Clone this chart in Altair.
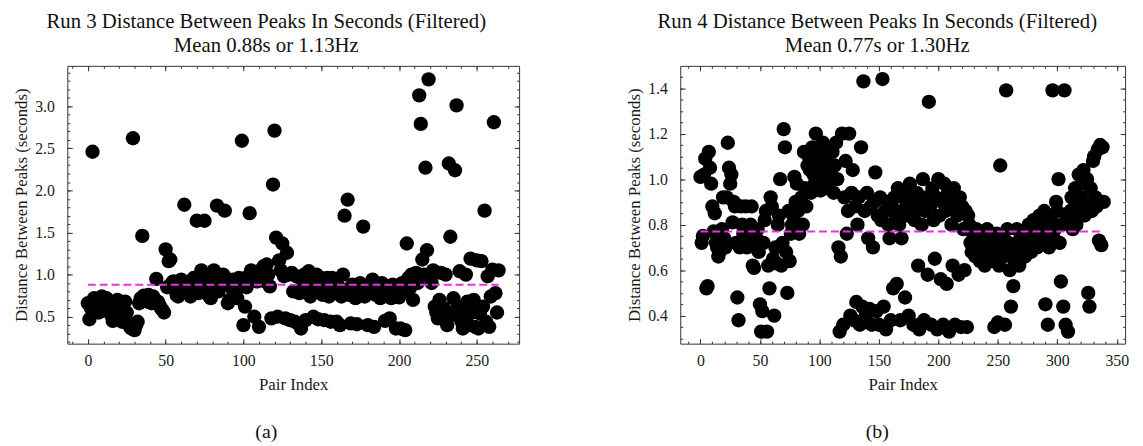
import json
import altair as alt
import pandas as pd

# ---------------- data ----------------
TITLE_A = ["Run 3 Distance Between Peaks In Seconds (Filtered)", "Mean 0.88s or 1.13Hz"]
TITLE_B = ["Run 4 Distance Between Peaks In Seconds (Filtered)", "Mean 0.77s or 1.30Hz"]
CAPTION_A = "(a)"
CAPTION_B = "(b)"
X_TITLE = "Pair Index"
Y_TITLE = "Distance Between Peaks (seconds)"

MEAN_A = [0.88]
MEAN_B = [0.77]

run3 = [
    0.66, 0.47, 0.60, 2.46, 0.72, 0.68, 0.62, 0.55, 0.70, 0.74,
    0.66, 0.58, 0.72, 0.64, 0.60, 0.52, 0.45, 0.56, 0.66, 0.70,
    0.62, 0.50, 0.44, 0.58, 0.68, 0.55, 0.42, 0.38, 0.36, 2.62,
    0.34, 0.40, 0.44, 0.66, 0.72, 1.46, 0.75, 0.70, 0.68, 0.76,
    0.72, 0.66, 0.74, 0.70, 0.95, 0.68, 0.64, 0.60, 0.58, 0.55,
    1.30, 0.85, 1.16, 1.18, 0.90, 0.92, 0.86, 0.76, 0.74, 0.88,
    0.94, 0.80, 1.83, 0.90, 0.86, 0.78, 0.74, 0.92, 0.96, 0.84,
    1.64, 0.78, 0.88, 1.05, 0.98, 1.64, 0.90, 0.82, 0.74, 0.72,
    0.94, 1.05, 0.86, 1.82, 0.80, 0.92, 0.88, 1.00, 1.76, 0.90,
    0.66, 0.70, 0.85, 0.94, 0.90, 0.76, 0.72, 0.96, 0.90, 2.59,
    0.40, 0.62, 0.85, 0.98, 1.73, 1.05, 0.96, 0.50, 1.02, 0.92,
    0.38, 1.05, 1.00, 1.10, 0.92, 1.12, 1.00, 0.86, 0.48, 2.07,
    2.71, 1.44, 0.50, 1.17, 1.05, 1.37, 0.98, 0.48, 1.26, 1.00,
    0.46, 1.02, 0.80, 0.44, 0.98, 0.42, 0.78, 0.36, 0.88, 1.00,
    0.46, 0.80, 1.04, 0.74, 0.95, 0.50, 0.84, 1.00, 0.47, 0.82,
    0.96, 0.76, 0.46, 0.88, 0.96, 0.74, 0.44, 0.96, 0.82, 0.78,
    0.44, 0.86, 0.40, 0.74, 1.00, 1.70, 0.82, 1.89, 0.76, 0.42,
    0.88, 0.80, 0.72, 0.41, 0.84, 0.90, 0.78, 1.57, 0.74, 0.86,
    0.40, 0.80, 0.88, 0.94, 0.38, 0.76, 0.84, 0.80, 0.72, 0.90,
    0.84, 0.45, 0.78, 0.86, 0.48, 0.72, 0.88, 0.80, 0.36, 0.76,
    0.73, 0.36, 0.90, 0.80, 0.34, 1.37, 0.96, 0.84, 1.00, 0.70,
    0.95, 1.02, 0.90, 3.13, 2.79, 1.18, 1.00, 2.27, 1.29, 3.32,
    0.98, 0.90, 1.05, 0.62, 0.55, 0.48, 0.70, 1.02, 0.52, 0.60,
    1.00, 0.40, 2.32, 1.45, 0.52, 0.72, 2.24, 3.01, 0.62, 1.04,
    0.45, 0.36, 0.58, 1.00, 0.68, 0.40, 1.19, 0.55, 0.70, 0.38,
    1.17, 0.36, 0.54, 1.16, 0.62, 1.76, 0.44, 0.98, 0.38, 0.74,
    1.06, 2.81, 0.78, 0.55, 1.05,
]

run4 = [
    1.01, 0.72, 0.75, 1.02, 1.09, 0.52, 0.53, 1.12, 1.05, 0.98,
    0.88, 0.77, 0.85, 0.72, 0.70, 0.66, 0.68, 0.74, 0.78, 0.92,
    0.74, 0.70, 0.92, 1.16, 1.05, 0.98, 1.02, 0.81, 0.90, 0.88,
    0.72, 0.48, 0.38, 0.70, 0.88, 0.80, 0.76, 0.74, 0.88, 0.70,
    0.78, 0.72, 0.80, 0.88, 0.62, 0.61, 0.70, 0.74, 0.78, 0.68,
    0.45, 0.33, 0.42, 0.72, 0.82, 0.86, 0.33, 0.62, 0.52, 0.92,
    0.88, 0.65, 0.40, 0.70, 0.63, 0.80, 0.84, 1.00, 0.62, 0.72,
    1.22, 1.14, 0.68, 0.50, 0.86, 0.64, 0.76, 0.80, 0.84, 1.01,
    0.90, 0.98, 0.86, 0.76, 0.88, 0.92, 0.80, 1.12, 0.96, 0.88,
    1.06, 1.10, 1.04, 0.94, 1.14, 1.02, 0.98, 1.20, 1.08, 1.12,
    1.00, 0.95, 1.06, 1.16, 1.10, 1.02, 1.08, 0.96, 1.14, 1.04,
    1.00, 1.12, 0.94, 1.06, 1.16, 1.00, 0.70, 0.33, 0.66, 1.20,
    0.36, 0.92, 1.08, 0.76, 0.86, 1.20, 0.40, 0.94, 1.04, 0.38,
    0.88, 0.46, 0.80, 0.92, 0.36, 1.14, 0.44, 1.43, 0.86, 0.40,
    0.94, 0.74, 0.43, 0.88, 0.36, 0.70, 0.90, 1.03, 0.42, 0.84,
    0.36, 0.92, 0.82, 1.44, 0.44, 0.86, 0.34, 0.90, 0.80, 0.74,
    0.38, 0.88, 0.52, 0.92, 0.84, 0.54, 0.96, 0.80, 0.38, 0.74,
    0.86, 0.94, 0.48, 0.90, 0.84, 0.40, 0.98, 0.88, 0.92, 0.36,
    0.82, 0.86, 0.94, 0.62, 0.34, 0.90, 0.80, 1.00, 0.38, 0.86,
    0.92, 0.58, 1.34, 0.88, 0.36, 0.96, 0.82, 0.65, 0.92, 0.34,
    1.00, 0.84, 0.56, 0.90, 0.36, 0.98, 0.86, 0.54, 0.94, 0.33,
    0.88, 0.80, 0.62, 0.96, 0.36, 0.90, 0.84, 0.58, 0.92, 0.35,
    0.88, 0.78, 0.60, 0.86, 0.35, 0.84, 0.80, 0.72, 0.68, 0.76,
    0.74, 0.66, 0.78, 0.70, 0.76, 0.64, 0.72, 0.68, 0.74, 0.62,
    0.70, 0.78, 0.66, 0.72, 0.64, 0.74, 0.70, 0.35, 0.68, 0.76,
    0.37, 0.62, 1.06, 0.70, 0.74, 0.66, 0.36, 1.39, 0.78, 0.72,
    0.60, 0.44, 0.68, 0.53, 0.64, 0.70, 0.78, 0.72, 0.62, 0.74,
    0.68, 0.76, 0.70, 0.66, 0.78, 0.72, 0.80, 0.74, 0.68, 0.76,
    0.82, 0.72, 0.78, 0.70, 0.76, 0.84, 0.74, 0.80, 0.72, 0.86,
    0.45, 0.78, 0.36, 0.70, 0.76, 0.82, 1.39, 0.74, 0.78, 0.90,
    0.86, 1.00, 0.72, 0.55, 0.80, 0.44, 1.39, 0.36, 0.84, 0.33,
    0.82, 0.86, 0.92, 0.78, 0.84, 0.96, 0.80, 0.88, 1.02, 0.86,
    0.92, 0.98, 1.04, 0.84, 0.90, 1.00, 0.50, 0.44, 0.96, 0.86,
    1.08, 1.10, 0.92, 0.88, 1.13, 0.73, 1.15, 0.71, 1.14, 0.90,
]

# axis domains and ticks
X_DOMAIN_A = [-13.2, 277.2]
Y_DOMAIN_A = [0.18, 3.48]
X_DOMAIN_B = [-17.0, 357.0]
Y_DOMAIN_B = [0.277, 1.498]

X_MAJOR_A = [0, 50, 100, 150, 200, 250]
X_MINOR_A = list(range(-10, 271, 10))
Y_MAJOR_A = [0.5, 1.0, 1.5, 2.0, 2.5, 3.0]
Y_MINOR_A = [round(0.2 + 0.1 * i, 2) for i in range(33)]

X_MAJOR_B = [0, 50, 100, 150, 200, 250, 300, 350]
X_MINOR_B = list(range(-10, 351, 10))
Y_MAJOR_B = [0.4, 0.6, 0.8, 1.0, 1.2, 1.4]
Y_MINOR_B = [round(0.3 + 0.05 * i, 2) for i in range(24)]

FONT = "Liberation Serif"
INK = "#1a1a1a"
FRAME = "#333333"
TICK = "#333333"
MEAN_COLOR = "#e830e8"


def make_axis(orient, values, fmt, size, title=None, labels=False, pad=10, tpad=5):
    # ticks point into the plot: the axis sits `size` px inside, ticks run out to the frame
    return alt.Axis(
        orient=orient,
        values=values,
        format=fmt,
        domain=False,
        grid=False,
        ticks=True,
        offset=-size,
        tickSize=size,
        tickWidth=1,
        tickColor=TICK,
        zindex=2,
        labels=labels,
        labelFont=FONT,
        labelFontSize=16,
        labelColor=INK,
        labelPadding=pad,
        labelOverlap=False,
        labelFlush=False,
        title=title,
        titleFont=FONT,
        titleFontSize=17,
        titleFontWeight="normal",
        titleColor=INK,
        titlePadding=tpad,
    )


def panel(values, mean, xdom, ydom, xmaj, xmin, ymaj, ymin):
    df = pd.DataFrame({"idx": list(range(len(values))), "val": values})
    mdf = pd.DataFrame({"x0": [0], "x1": [len(values) - 1], "m": mean})
    xs = alt.Scale(domain=xdom, nice=False, zero=False)
    ys = alt.Scale(domain=ydom, nice=False, zero=False)
    pts = alt.Chart(df).mark_circle(size=210, color="black", opacity=1).encode(
        x=alt.X("idx:Q", scale=xs,
                axis=make_axis("bottom", xmaj, "d", 5, title=X_TITLE, labels=True, pad=9, tpad=8)),
        y=alt.Y("val:Q", scale=ys,
                axis=make_axis("left", ymaj, ".1f", 5, title=Y_TITLE, labels=True, pad=13, tpad=4)),
    )
    rule = alt.Chart(mdf).mark_rule(color=MEAN_COLOR, strokeDash=[8, 4], strokeWidth=2).encode(
        x=alt.X("x0:Q", scale=xs, axis=make_axis("top", xmaj, "d", 5)),
        x2="x1:Q",
        y=alt.Y("m:Q", scale=ys, axis=make_axis("right", ymaj, ".1f", 5)),
    )
    minor1 = alt.Chart(mdf).mark_rule(strokeOpacity=0).encode(
        x=alt.X("x0:Q", scale=xs, axis=make_axis("bottom", xmin, "d", 2.5)),
        x2="x1:Q",
        y=alt.Y("m:Q", scale=ys, axis=make_axis("left", ymin, ".1f", 2.5)),
    )
    minor2 = alt.Chart(mdf).mark_rule(strokeOpacity=0).encode(
        x=alt.X("x0:Q", scale=xs, axis=make_axis("top", xmin, "d", 2.5)),
        x2="x1:Q",
        y=alt.Y("m:Q", scale=ys, axis=make_axis("right", ymin, ".1f", 2.5)),
    )
    return alt.layer(pts, rule, minor1, minor2).resolve_axis(x="independent", y="independent")


def title(lines):
    return alt.Title(lines, fontSize=21, fontWeight="normal", font=FONT, color="#111111",
                     offset=9, lineHeight=25, anchor="middle", frame="bounds")


def caption(text):
    return alt.Title(text, orient="bottom", fontSize=20, fontWeight="normal", font=FONT,
                     color="#111111", offset=30, anchor="middle", frame="bounds")


pa = panel(run3, MEAN_A, X_DOMAIN_A, Y_DOMAIN_A, X_MAJOR_A, X_MINOR_A, Y_MAJOR_A, Y_MINOR_A).properties(
    width=457, height=281, title=title(TITLE_A))
pb = panel(run4, MEAN_B, X_DOMAIN_B, Y_DOMAIN_B, X_MAJOR_B, X_MINOR_B, Y_MAJOR_B, Y_MINOR_B).properties(
    width=450, height=281, title=title(TITLE_B))

ca = alt.vconcat(pa, title=caption(CAPTION_A))
cb = alt.vconcat(pb, title=caption(CAPTION_B))

chart = alt.hconcat(ca, cb, spacing=106).properties(
    padding={"left": 4, "top": 0, "right": 5, "bottom": 0}
).configure(font=FONT).configure_view(stroke=FRAME, strokeWidth=1)

chart.save("out.html", embed_options={"renderer": "svg", "actions": False})
